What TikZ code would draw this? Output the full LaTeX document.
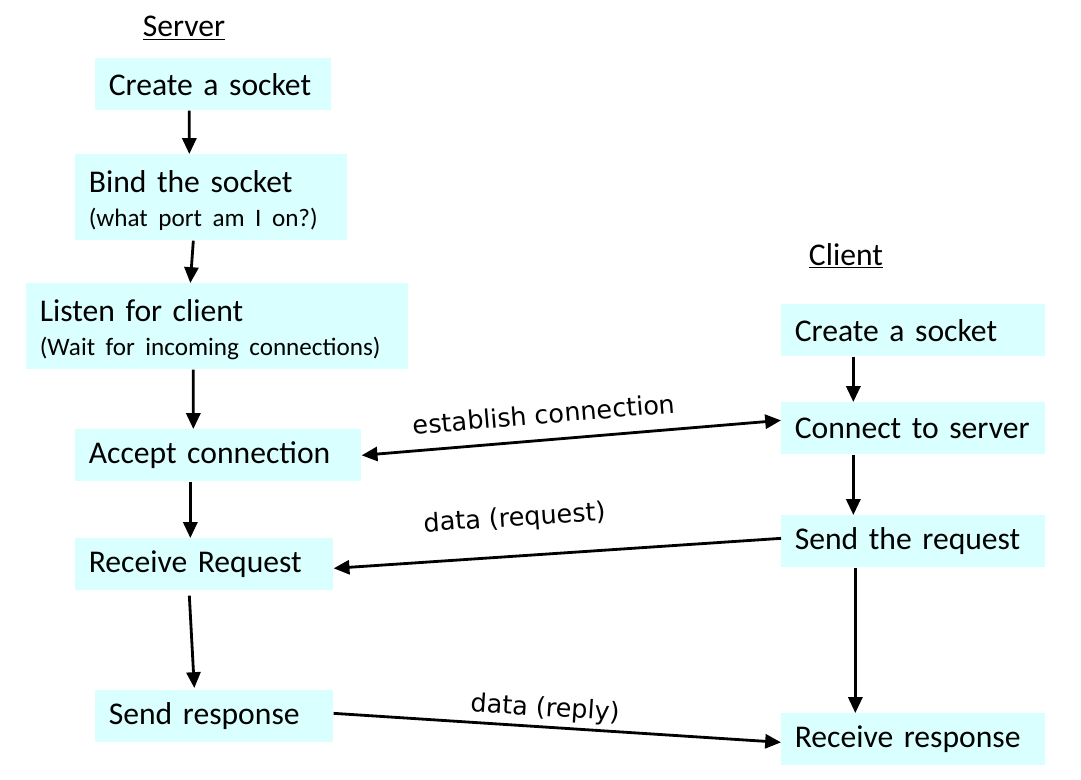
\documentclass[tikz,border=0pt]{standalone}
\usepackage{fontspec}
\setmainfont{Carlito}
\newfontfamily\labelfont{DejaVu Sans}
\usetikzlibrary{arrows.meta,positioning}
\definecolor{boxcyan}{RGB}{218,255,255}
\newcommand\subtxt{\fontsize{14.3}{15.5}\selectfont}
\newcommand\topstrut{\rule{0pt}{16.5pt}}
\tikzset{
  stepbox/.style={fill=boxcyan,anchor=north west,inner xsep=0.27cm,inner ysep=0pt,
    align=left,font=\fontsize{18}{21}\selectfont},
  flow/.style={line width=1.6pt,-{Triangle[length=9pt,width=8pt]}},
  duplex/.style={line width=1.6pt,{Triangle[length=9pt,width=8pt]}-{Triangle[length=9pt,width=8pt]}},
  msg/.style={font=\labelfont\fontsize{14.5}{17}\selectfont,sloped},
  heading/.style={font=\fontsize{18}{21}\selectfont}
}
\begin{document}
\begin{tikzpicture}[x=0.02cm,y=-0.02cm]
\useasboundingbox (0,0) rectangle (1081,780);
% server side
\node[heading] (srvtitle) at (184,28) {\underline{Server}};
\node[stepbox,text width=4.18cm,minimum height=1.04cm] (srvsock) at (95,58) {Create a socket};
\node[stepbox,text width=4.90cm,minimum height=1.72cm] (srvbind) at (75,154) {\topstrut Bind the socket\\[-1.5pt]{\subtxt (what port am I on?)}};
\node[stepbox,text width=7.10cm,minimum height=1.72cm] (srvlisten) at (26,283) {\topstrut Listen for client\\[-1.5pt]{\subtxt (Wait for incoming connections)}};
\node[stepbox,text width=5.18cm,minimum height=1.04cm] (srvaccept) at (75,429) {Accept connection};
\node[stepbox,text width=4.62cm,minimum height=1.04cm] (srvrecv) at (75,538) {Receive Request};
\node[stepbox,text width=4.22cm,minimum height=1.04cm] (srvsend) at (95,690) {Send response};
% client side
\node[heading] (clititle) at (846,256) {\underline{Client}};
\node[stepbox,text width=4.74cm,minimum height=1.04cm] (clisock) at (781,304) {Create a socket};
\node[stepbox,text width=4.74cm,minimum height=1.04cm] (cliconn) at (781,402) {Connect to server};
\node[stepbox,text width=4.74cm,minimum height=1.04cm] (clisend) at (781,515) {Send the request};
\node[stepbox,text width=4.74cm,minimum height=1.04cm] (clirecv) at (781,713) {Receive response};
% flow inside each side
\draw[flow] ([xshift=-0.48cm]srvsock.south) -- ([xshift=-0.44cm]srvbind.north);
\draw[flow] ([xshift=-0.36cm]srvbind.south) -- ([xshift=-0.54cm]srvlisten.north);
\draw[flow] ([xshift=-0.48cm]srvlisten.south) -- ([xshift=-0.50cm]srvaccept.north);
\draw[flow] ([xshift=-0.56cm]srvaccept.south) -- ([xshift=-0.28cm]srvrecv.north);
\draw[flow] ([xshift=-0.30cm,yshift=-0.1cm]srvrecv.south) -- ([xshift=-0.40cm,yshift=0.04cm]srvsend.north);
\draw[flow] ([xshift=-1.20cm]clisock.south) -- ([xshift=-1.20cm]cliconn.north);
\draw[flow] ([xshift=-1.20cm]cliconn.south) -- ([xshift=-1.20cm]clisend.north);
\draw[flow] ([xshift=-1.16cm]clisend.south) -- ([xshift=-1.16cm]clirecv.north);
% messages between the two
\draw[duplex] (srvaccept.east) -- node[msg,pos=0.44,above=5pt] {establish connection} ([yshift=0.16cm]cliconn.west);
\draw[flow] ([yshift=0.06cm]clisend.west) -- node[msg,pos=0.59,above=10pt] {data (request)} ([yshift=-0.08cm]srvrecv.east);
\draw[flow] ([yshift=0.06cm]srvsend.east) -- node[msg,pos=0.47,above=-1pt] {data (reply)} ([yshift=-0.06cm]clirecv.west);
\end{tikzpicture}
\end{document}
